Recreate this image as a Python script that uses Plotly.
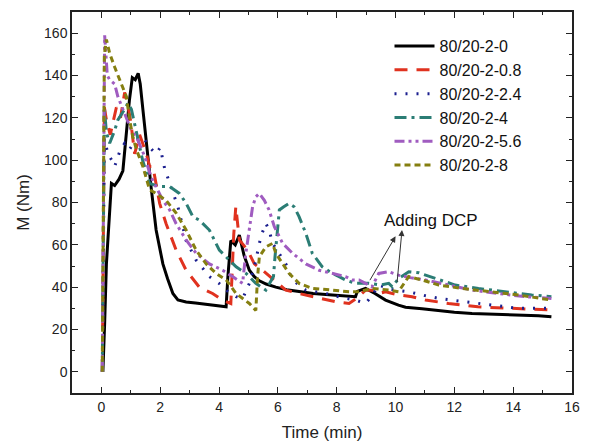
import plotly.graph_objects as go

# ---------------- data ----------------
t_0 = [0.05,0.08,0.11,0.17,0.28,0.34,0.45,0.6,0.73,0.85,0.95,1.05,1.15,1.25,1.32,1.41,1.5,1.58,1.7,1.86,2.0,2.09,2.25,2.43,2.6,2.88,3.2,3.5,3.8,4.0,4.24,4.3,4.4,4.55,4.69,4.85,5.03,5.2,5.37,5.6,5.93,6.3,6.72,7.2,7.85,8.3,8.64,8.7,8.98,9.3,9.66,10.1,10.34,10.9,11.47,12.0,12.6,13.2,13.73,14.3,14.86,15.3]
m_0 = [0,10,23,51,73,89,88,91,95,114,128,139,138,141,136,124,112,100,86,67,57,51,44,37,34,33,32.5,32,31.5,31,30.7,45,62,60,64.6,55,48,45,43,41.5,40,38.8,37.8,37,36.3,36,35.5,38,39.4,37,33.9,31.5,30.5,29.8,28.8,28.2,27.6,27.4,27.1,26.8,26.5,26]

t_08 = [0.03,0.06,0.1,0.17,0.3,0.51,0.65,0.79,0.9,1.0,1.13,1.3,1.53,1.64,1.75,1.98,2.2,2.54,2.88,3.33,3.78,4.12,4.4,4.5,4.57,4.69,4.97,5.2,5.48,5.93,6.27,6.72,7.2,7.63,8.0,8.42,8.7,8.98,9.2,9.43,9.66,10.1,10.56,11.02,11.8,12.8,13.95,15.3]
m_08 = [0,60,125,119,112,125,120,132,126,118,103,112,103,97,97,79.6,70,57.5,48,40,37,33.9,32.3,65,78,62.3,57.5,51,48,42.6,38.6,37,35.5,33.9,33,32.3,35,38.6,38.6,37,37.8,36.3,35.5,33.9,32.3,30.7,30,29.2]

t_24 = [0.03,0.06,0.1,0.22,0.35,0.45,0.62,0.79,0.95,1.1,1.25,1.41,1.64,1.86,2.0,2.15,2.26,2.43,2.6,2.88,3.22,3.67,4.0,4.3,4.58,4.8,5.03,5.2,5.31,5.42,5.59,5.7,5.82,6.04,6.27,6.5,6.95,7.63,8.2,8.64,8.98,9.2,9.43,9.8,10.1,10.45,11.0,11.47,12.37,13.27,14.18,15.3]
m_24 = [0,50,110,103,100,97,104,108,105,108,110,111,106,103,106,96,91.4,84.3,78,62,52.8,45,41.8,38,35.5,34.5,41.8,49.6,57.5,63.8,70.2,67,60.7,56,51,43.4,38.6,37,35,33.9,32.3,36,41,39,38.5,37.8,36,34.7,33.1,31.5,30,30]

t_4 = [0.03,0.06,0.1,0.17,0.28,0.45,0.56,0.79,0.9,1.02,1.2,1.4,1.64,1.98,2.32,2.65,2.88,3.11,3.33,3.67,4.01,4.35,4.58,4.92,5.25,5.59,5.85,5.9,6.05,6.2,6.38,6.55,6.72,6.95,7.17,7.51,7.85,8.08,8.3,8.64,9.1,9.5,9.77,9.89,10.1,10.45,10.79,11.36,12.03,12.82,13.73,14.63,15.3]
m_4 = [0,60,125,113,108,114,119,124,127,124,112,100,89,87.5,87.5,84.3,79.6,73.3,71.7,67,57.5,52.8,49.6,46.5,41.8,38.6,45,54,76.5,78,79.6,78,73.3,65.4,56,49.6,46.5,45,43.4,41.8,41.8,41,41.8,40.2,44,47.3,46.8,44.1,41,39.4,37.8,36.3,35.5]

t_56 = [0.03,0.06,0.11,0.2,0.28,0.45,0.56,0.79,1.02,1.24,1.47,1.69,1.92,2.09,2.32,2.54,2.88,3.22,3.67,4.12,4.46,4.8,4.9,5.03,5.14,5.25,5.37,5.54,5.7,5.88,6.16,6.5,6.95,7.4,7.85,8.3,8.53,8.76,8.98,9.2,9.43,9.77,10.1,10.5,11.02,11.8,12.6,13.5,14.4,15.3]
m_56 = [0,80,159,140,138,136,130,122,114,109.5,101.7,92,86,81,76.5,70,62.3,56,51,48,45,41.8,55,68.6,78,82.7,84.3,81,76.5,68.6,60.7,56,51,48,46.5,45,43.4,43.4,41.8,40.2,46.5,47.3,45.7,44.5,43.4,41,38.6,37,35.5,34.7]

t_8 = [0.03,0.06,0.1,0.17,0.28,0.45,0.62,0.85,0.96,1.07,1.19,1.41,1.64,1.86,2.2,2.54,2.88,3.22,3.56,3.9,4.24,4.58,5.03,5.25,5.31,5.37,5.59,5.82,5.93,6.16,6.38,6.72,7.17,7.85,8.42,8.76,9.2,9.77,10.1,10.3,10.45,10.9,11.47,12.26,13.16,14.18,15.3]
m_8 = [0,60,150,157,150.5,144,138,130,119,111,105,97,86,84.3,81,75,67,57.5,51,46.5,43.4,37,32.3,29,45,54.4,59,60.7,56,51,46.5,41.8,39.4,38.6,37.8,37.8,39.4,38.6,37.8,42,45,43.4,41,39.4,37.8,36.3,33.9]

series_names = ["80/20-2-0", "80/20-2-0.8", "80/20-2-2.4", "80/20-2-4", "80/20-2-5.6", "80/20-2-8"]
series_t = [t_0, t_08, t_24, t_4, t_56, t_8]
series_m = [m_0, m_08, m_24, m_4, m_56, m_8]

x_ticks = [0, 2, 4, 6, 8, 10, 12, 14, 16]
y_ticks = [0, 20, 40, 60, 80, 100, 120, 140, 160]

annot_text = "Adding DCP"
annot_pos = (11.2, 71.5)
arrow_heads = [(10.0, 64), (10.22, 67)]
arrow_tails = [(9.1, 42.6), (10.05, 41.8)]

# ---------------- styles ----------------
colors = ["#000000", "#e0321f", "#1b1f8f", "#2b7d75", "#a05cc0", "#857f10"]
dashes = ["solid", "13px,9px", "2px,9px", "12px,5px,3px,5px", "10px,4px,3px,4px,3px,4px", "6px,4px"]
widths = [3, 3, 3, 3, 3, 3]

FONT = "Liberation Sans, Arial, sans-serif"

fig = go.Figure()
for name, t, m, c, d, w in zip(series_names, series_t, series_m, colors, dashes, widths):
    fig.add_trace(go.Scatter(x=t, y=m, mode="lines", name=name,
                             line=dict(color=c, dash=d, width=w)))

fig.add_annotation(x=annot_pos[0], y=annot_pos[1], text=annot_text, showarrow=False,
                   font=dict(family=FONT, size=17, color="#111111"))
for (hx, hy), (tx, ty) in zip(arrow_heads, arrow_tails):
    fig.add_annotation(x=hx, y=hy, ax=tx, ay=ty, axref="x", ayref="y", xref="x", yref="y",
                       text="", showarrow=True, arrowhead=2, arrowsize=1.2, arrowwidth=1,
                       arrowcolor="#333333", standoff=0, startstandoff=0)

axis_common = dict(showline=True, linecolor="#222222", linewidth=1.5, mirror="ticks",
                   ticks="inside", ticklen=6, tickwidth=1.2, tickcolor="#222222",
                   showgrid=False, zeroline=False, automargin=False,
                   tickfont=dict(family=FONT, size=14, color="#222222"))

# The page body adds an 8px offset, so the figure is 8px smaller on each axis.
fig.update_layout(
    width=587, height=435,
    margin=dict(l=64, r=23, t=4, b=50, autoexpand=False),
    paper_bgcolor="white", plot_bgcolor="white",
    font=dict(family=FONT, color="#222222"),
    xaxis=dict(range=[-1, 16], tickvals=x_ticks,
               minor=dict(dtick=1, ticks="inside", ticklen=3, tickcolor="#222222"),
               title=dict(text="Time (min)", font=dict(family=FONT, size=17), standoff=13),
               **axis_common),
    yaxis=dict(range=[-10, 170], tickvals=y_ticks,
               minor=dict(dtick=10, ticks="inside", ticklen=3, tickcolor="#222222"),
               title=dict(text="M (Nm)", font=dict(family=FONT, size=17), standoff=10),
               **axis_common),
    legend=dict(x=0.635, y=0.955, xanchor="left", yanchor="top",
                bgcolor="rgba(0,0,0,0)", font=dict(family=FONT, size=16, color="#111111"),
                itemwidth=40, tracegroupgap=0),
)

fig.write_html("out.html")
